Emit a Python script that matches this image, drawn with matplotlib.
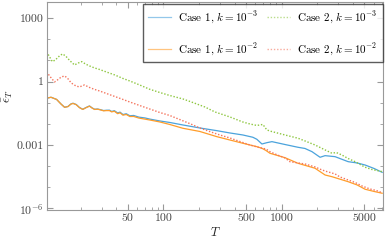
import numpy as np
import matplotlib
matplotlib.use("Agg")
import matplotlib.pyplot as plt

plt.rcParams['font.family'] = 'serif'
plt.rcParams['font.serif'] = ['cmr10', 'DejaVu Serif']
plt.rcParams['mathtext.fontset'] = 'cm'
plt.rcParams['axes.formatter.use_mathtext'] = True

# Case 1, k = 1e-3 (blue)
t_c1a = [10.3, 11.2, 12.5, 13.6, 14.6, 15.6, 16.5, 17.2, 18.3, 19.5, 20.8, 22.2, 23.7, 25.0,
         26.2, 27.8, 29.5, 31.2, 33, 35, 36.5, 38.5, 41, 43, 45.5, 48.5, 52, 56, 62, 70, 76.5,
         93, 113, 146, 203, 283, 365, 470, 571, 617, 681, 750, 828, 1067, 1374, 1575, 1806,
         2113, 2330, 2830, 3650, 4350, 5080, 6050, 7080]
e_c1a = [0.162, 0.180, 0.142, 0.0867, 0.0605, 0.066, 0.0867, 0.0938, 0.082, 0.059, 0.0486,
         0.059, 0.070, 0.056, 0.0486, 0.050, 0.0461, 0.0423, 0.0437, 0.044, 0.0383, 0.0416,
         0.0325, 0.0355, 0.0273, 0.0298, 0.0239, 0.0247, 0.0206, 0.0188, 0.0167,
         0.0136, 0.01153, 0.00877, 0.00632, 0.00471, 0.00366, 0.00294, 0.00229, 0.00184,
         0.0011, 0.00127, 0.00142, 0.00104, 7.69e-4, 6.75e-4, 4.76e-4,
         2.58e-4, 3.08e-4, 2.76e-4, 1.6e-4, 1.39e-4, 1.11e-4, 7.6e-5, 5.0e-5]

# Case 1, k = 1e-2 (orange)
t_c1b = [10.3, 11.2, 12.5, 13.6, 14.6, 15.6, 16.5, 17.2, 18.3, 19.5, 20.8, 22.2, 23.7, 25.0,
         26.2, 27.8, 29.5, 31.2, 33, 35, 36.5, 38.5, 41, 43, 45.5, 48.5, 52, 56, 62, 70, 76.5,
         93, 113, 146, 203, 283, 365, 470, 617, 681, 736, 796, 1067, 1374, 1915, 2330, 2666,
         3650, 4350, 5080, 6050, 7080]
e_c1b = [0.162, 0.180, 0.142, 0.0867, 0.0600, 0.065, 0.085, 0.092, 0.080, 0.058, 0.0478,
         0.058, 0.068, 0.055, 0.0476, 0.049, 0.045, 0.041, 0.042, 0.042, 0.0365, 0.039,
         0.030, 0.033, 0.0255, 0.0275, 0.0220, 0.0222, 0.0186, 0.0165, 0.0151,
         0.0122, 0.00927, 0.00612, 0.00432, 0.00245, 0.0017, 0.00119, 8.22e-4, 6.9e-4,
         5.43e-4, 4.0e-4, 2.47e-4, 1.34e-4, 7.8e-5, 3.74e-5, 3.1e-5,
         1.8e-5, 1.26e-5, 7.9e-6, 6.2e-6, 5.1e-6]

# Case 2, k = 1e-3 (green)
t_c2a = [10.3, 10.9, 11.5, 12.2, 13.2, 14.0, 14.9, 16.1, 17.7, 19.1, 20.4, 21.9, 23.7, 26.2,
         28.8, 32.9, 38.7, 45.5, 51.8, 62.9, 76.5, 93, 113, 146, 177, 224, 273, 365, 468, 538,
         617, 694, 750, 820, 1068, 1376, 1577, 1915, 2242, 2666, 2890, 3228, 3650, 4180, 4610,
         5080, 5810, 7080]
e_c2a = [26.1, 14.7, 8.8, 10.6, 16.3, 20.3, 16.3, 10.0, 6.1, 7.6, 8.8, 6.8, 5.5, 4.4,
         3.74, 2.85, 2.06, 1.40, 1.07, 0.69, 0.432, 0.304, 0.219, 0.150, 0.102, 0.0625,
         0.0362, 0.021, 0.0122, 0.0098, 0.0083, 0.00927, 0.00508, 0.00432, 0.00294, 0.00206,
         0.00153, 9.9e-4, 6.4e-4, 4.0e-4, 4.37e-4, 3.32e-4, 2.26e-4, 1.6e-4, 1.18e-4,
         8.7e-5, 6.8e-5, 5.4e-5]

# Case 2, k = 1e-2 (red)
t_c2b = [10.3, 10.9, 12.0, 12.7, 13.7, 14.6, 15.4, 16.6, 18.2, 19.5, 21.5, 23.7, 26.2, 28.8,
         32.9, 38.7, 45.5, 51.8, 62.9, 76.5, 93, 113, 137, 170, 203, 248, 300, 365, 443, 538,
         652, 736, 796, 920, 1068, 1174, 1376, 1577, 1915, 2190, 2420, 2830, 3119, 3650, 4180,
         4780, 5590, 6310, 7080]
e_c2b = [2.94, 1.84, 0.957, 1.19, 1.65, 1.84, 1.48, 0.86, 0.618, 0.555, 0.69, 0.525, 0.423,
         0.359, 0.273, 0.197, 0.142, 0.108, 0.0736, 0.0502, 0.0343, 0.0247, 0.016, 0.0098,
         0.00632, 0.00423, 0.00294, 0.00212, 0.00145, 9.9e-4, 7.36e-4, 6.4e-4, 4.76e-4,
         3.32e-4, 2.39e-4, 1.6e-4, 1.39e-4, 1.24e-4, 9.0e-5, 6.5e-5, 5.4e-5, 4.2e-5, 3.0e-5,
         2.17e-5, 1.65e-5, 1.13e-5, 8.1e-6, 6.9e-6, 5.4e-6]

x_major = [50, 100, 500, 1000, 5000]
x_major_labels = ['50', '100', '500', '1000', '5000']
x_minor = [20, 30, 40, 60, 70, 80, 90, 200, 300, 400, 600, 700, 800, 900,
           2000, 3000, 4000, 6000, 7000]
y_major = [1e-6, 1e-3, 1, 1e3]
y_major_labels = ['$10^{-6}$', '0.001', '1', '1000']
y_minor = [1e-5, 1e-4, 1e-2, 1e-1, 10, 100]

c_blue = '#4ba3dc'
c_orange = '#ff9d2a'
c_green = '#8dc63f'
c_red = '#f4735c'
dots = (0, (1, 1.3))

fig = plt.figure(figsize=(3.89, 2.45), dpi=100)
ax = fig.add_axes([0.120, 0.141, 0.8646, 0.851])

ax.plot(t_c1a, e_c1a, color=c_blue, lw=0.9, label='Case 1, $k=10^{-3}$')
ax.plot(t_c1b, e_c1b, color=c_orange, lw=0.9, label='Case 1, $k=10^{-2}$')
ax.plot(t_c2a, e_c2a, color=c_green, lw=1.0, ls=dots, label='Case 2, $k=10^{-3}$')
ax.plot(t_c2b, e_c2b, color=c_red, lw=1.0, ls=dots, label='Case 2, $k=10^{-2}$')

ax.set_xscale('log')
ax.set_yscale('log')
ax.set_xlim(10.3, 7200)
ax.set_ylim(7.8e-7, 5.9e3)

ax.set_xticks(x_major)
ax.set_xticklabels(x_major_labels)
ax.set_xticks(x_minor, minor=True)
ax.set_xticklabels([], minor=True)
ax.set_yticks(y_major)
ax.set_yticklabels(y_major_labels)
ax.set_yticks(y_minor, minor=True)
ax.set_yticklabels([], minor=True)

ax.tick_params(which='both', direction='in', top=True, right=True,
               color='#999999', labelcolor='#444444', labelsize=8.5, pad=2)
ax.tick_params(which='major', length=4, width=0.8)
ax.tick_params(which='minor', length=2.5, width=0.6)
for s in ax.spines.values():
    s.set_color('#999999')
    s.set_linewidth(0.8)

# legend: row 1 = k=1e-3, row 2 = k=1e-2
h, l = ax.get_legend_handles_labels()
leg = ax.legend(h, l, ncol=2, loc='upper right', bbox_to_anchor=(0.999, 0.989),
                fontsize=8, frameon=True, fancybox=False, handlelength=2.1,
                handletextpad=0.6, columnspacing=0.8, labelspacing=1.45,
                borderpad=0.45, borderaxespad=0)
leg.get_frame().set_edgecolor('#333333')
leg.get_frame().set_linewidth(1.0)
for line in leg.get_lines():
    line.set_alpha(0.6)

fig.text(8 / 389, 1 - 96 / 245, r'$\bar{\epsilon}_T$', rotation=90,
         ha='center', va='center', fontsize=9, color='#222222')
fig.text(215 / 389, 1 - 232 / 245, '$T$', ha='center', va='center',
         fontsize=9, color='#222222')

fig.savefig('out.png', dpi=100)
